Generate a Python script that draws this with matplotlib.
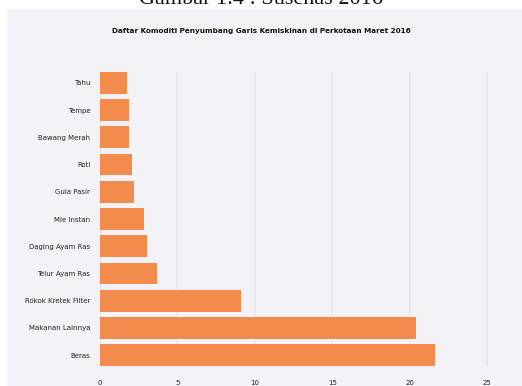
import matplotlib
matplotlib.use("Agg")
import matplotlib.pyplot as plt
from matplotlib.patches import Rectangle

komoditi = ["Beras", "Makanan Lainnya", "Rokok Kretek Filter", "Telur Ayam Ras",
            "Daging Ayam Ras", "Mie Instan", "Gula Pasir", "Roti",
            "Bawang Merah", "Tempe", "Tahu"]
persen = [21.6, 20.4, 9.1, 3.7, 3.05, 2.85, 2.2, 2.05, 1.85, 1.85, 1.75]
xticks = [0, 5, 10, 15, 20, 25]

bg = "#f3f3f7"
orange = "#f28b4c"

fig = plt.figure(figsize=(5.22, 3.86), dpi=100)
fig.patch.set_facecolor("white")
# grey panel behind the chart
fig.patches.append(Rectangle((7 / 522, 0), 1, 1 - 9 / 386, transform=fig.transFigure,
                             facecolor=bg, edgecolor="none", zorder=-5))
# cut-off caption above the panel
fig.text(0.5, 1 - 4.5 / 386, "Gambar 1.4 : Susenas 2016", ha="center", va="baseline",
         fontsize=16, family="Liberation Serif", color="#111111")

ax = fig.add_axes([100 / 522, 20 / 386, 395 / 522, 294 / 386])
ax.patch.set_alpha(0)
ax.barh(range(len(komoditi)), persen, height=0.8, color=orange, zorder=2)
ax.set_yticks(range(len(komoditi)))
ax.set_yticklabels(komoditi, fontsize=5, color="#222222")
ax.set_xticks(xticks)
ax.set_xticklabels([str(t) for t in xticks], fontsize=5, color="#222222")
ax.set_xlim(0, 25.5)
ax.set_ylim(-0.4, 10.4)
ax.tick_params(length=0)
ax.tick_params(axis="y", pad=7)
ax.tick_params(axis="x", pad=10)
ax.grid(axis="x", color="#e8e8ed", linewidth=1.2, zorder=0)
ax.set_axisbelow(True)
ax.axvline(0, color="#e0e0e5", linewidth=1, zorder=1)
for s in ax.spines.values():
    s.set_visible(False)

fig.text(0.5, 1 - 31 / 386, "Daftar Komoditi Penyumbang Garis Kemiskinan di Perkotaan Maret 2016",
         ha="center", va="center", fontsize=5.2, fontweight="bold", color="#111111")

fig.savefig("out.png", dpi=100, facecolor=fig.get_facecolor())
